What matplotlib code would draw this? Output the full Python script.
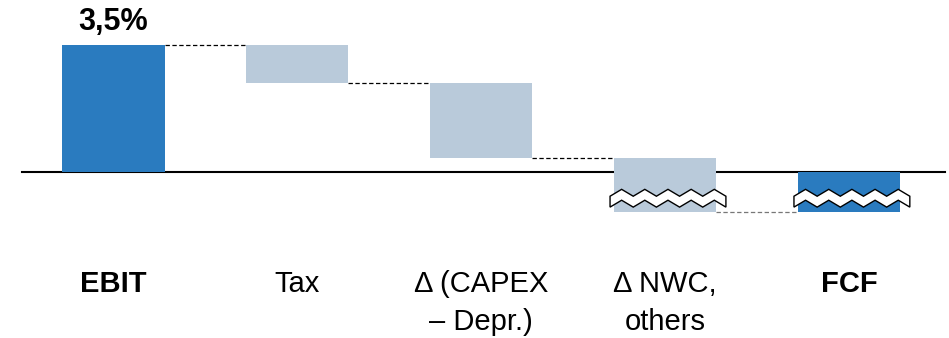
import numpy as np
import matplotlib.pyplot as plt
from matplotlib.patches import Polygon

plt.rcParams['font.family'] = ['Liberation Sans', 'DejaVu Sans']

# bridge from EBIT margin to free cash flow margin (in % of sales)
CATEGORIES = ["EBIT", "Tax", "\u0394 (CAPEX\n\u2013 Depr.)", "\u0394 NWC,\nothers", "FCF"]
BOLD = [True, False, False, False, True]
EBIT = 3.5
STEPS = [-1.05, -2.05, -1.5]
TOP_LABEL = "3,5%"
BROKEN = [3, 4]          # bars drawn with an axis break

BLUE = "#2a7bbf"
GREY = "#b9cada"


def zigzag_break(ax, xc, yc):
    # white zigzag band marking a shortened bar
    xs = np.linspace(xc - 0.30, xc + 0.33, 11)
    amp, thick = 0.095, 0.30
    top = yc + thick / 2 + np.where(np.arange(len(xs)) % 2 == 0, -amp, amp)
    bot = top - thick
    pts = list(zip(xs, top)) + list(zip(xs[::-1], bot[::-1]))
    ax.add_patch(Polygon(pts, closed=True, facecolor="white",
                         edgecolor="black", lw=1.0, zorder=5))


def main():
    fig = plt.figure(figsize=(9.49, 3.38), dpi=100)
    ax = fig.add_axes([0, 0, 1, 1])
    ax.set_xlim(-0.617, 4.543)
    ax.set_ylim(-4.57, 4.74)
    ax.axis("off")

    width = 0.555
    levels = [EBIT]
    for s in STEPS:
        levels.append(levels[-1] + s)
    fcf = levels[-1]

    bottoms = [0] + [levels[i + 1] for i in range(len(STEPS))] + [0]
    heights = [EBIT] + [-s for s in STEPS] + [fcf]
    colors = [BLUE] + [GREY] * len(STEPS) + [BLUE]
    xs = np.arange(len(CATEGORIES))
    ax.bar(xs, heights, bottom=bottoms, width=width, color=colors, zorder=3)

    # baseline
    ax.plot([-0.5, 4.52], [0, 0], color="black", lw=1.5, zorder=2)

    # connectors between consecutive bars
    for i in range(len(levels)):
        c = "#777777" if i == len(levels) - 1 else "black"
        ax.plot([i + width / 2, i + 1 - width / 2], [levels[i], levels[i]],
                color=c, lw=0.9, dashes=(3.5, 2), zorder=2)

    for i in BROKEN:
        zigzag_break(ax, xs[i], -0.72)

    ax.text(0, EBIT + 0.42, TOP_LABEL, ha="center", va="baseline",
            fontsize=22, fontweight="bold")

    for i, lab in enumerate(CATEGORIES):
        for j, line in enumerate(lab.split("\n")):
            ax.text(xs[i], -3.31 - 1.05 * j, line, ha="center", va="baseline",
                    fontsize=21, fontweight="bold" if BOLD[i] else "normal")

    fig.savefig("out.png", dpi=100)


if __name__ == "__main__":
    main()
